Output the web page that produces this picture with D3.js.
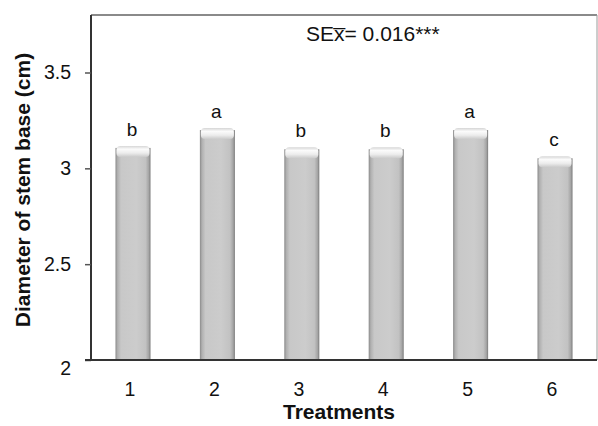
<!DOCTYPE html>
<html><head><meta charset="utf-8">
<script src="https://cdn.jsdelivr.net/npm/d3@7"></script>
<style>body{margin:0;background:#fff;} svg{display:block;font-family:"Liberation Sans",Arial,sans-serif;}</style>
</head><body>
<svg id="c" width="598" height="426"></svg>
<script>
const categories = ["1","2","3","4","5","6"];
const values = [3.117, 3.21, 3.11, 3.11, 3.21, 3.063];
const letters = ["b","a","b","b","a","c"];
const yTicks = [2, 2.5, 3, 3.5];
const yTickLabels = ["2","2.5","3","3.5"];
const annotation = "SEx\u0305= 0.016***";

const svg = d3.select("#c");
const L = 91, R = 597, T = 15, B = 360;
const x = d3.scaleBand().domain(categories).range([L, R]).paddingInner(0.585).paddingOuter(0.29);
const y = d3.scaleLinear().domain([2, 3.8]).range([B, T]);

const defs = svg.append("defs");
const g1 = defs.append("linearGradient").attr("id","barg").attr("x1","0").attr("x2","1").attr("y1","0").attr("y2","0");
[[0,"#8a8a8a"],[0.06,"#b0b0b0"],[0.16,"#c8c8c8"],[0.6,"#cccccc"],[0.86,"#c2c2c2"],[0.95,"#a4a4a4"],[1,"#7a7a7a"]]
  .forEach(([o,c])=>g1.append("stop").attr("offset",o).attr("stop-color",c));
const g2 = defs.append("linearGradient").attr("id","capg").attr("x1","0").attr("x2","0").attr("y1","0").attr("y2","1");
[[0,"#d6d6d6"],[0.3,"#fbfbfb"],[0.65,"#ececec"],[1,"#cacaca"]].forEach(([o,c])=>g2.append("stop").attr("offset",o).attr("stop-color",c));

// frame top/right
svg.append("line").attr("x1",L).attr("x2",R).attr("y1",T).attr("y2",T).attr("stroke","#8a8a8a").attr("stroke-width",2);
svg.append("line").attr("x1",R).attr("x2",R).attr("y1",T).attr("y2",B).attr("stroke","#9a9a9a").attr("stroke-width",1);

// bars
const bars = svg.append("g");
categories.forEach((c,i)=>{
  const bx = x(c), bw = x.bandwidth(), by = y(values[i]);
  bars.append("rect").attr("x",bx).attr("y",by+2).attr("width",bw).attr("height",B-by-2).attr("fill","url(#barg)");
  bars.append("rect").attr("x",bx+1).attr("y",by).attr("width",bw-2).attr("height",11).attr("rx",4).attr("fill","url(#capg)");
  bars.append("text").attr("x",bx+bw/2-1).attr("y",by-10).attr("text-anchor","middle").attr("font-size",19).attr("fill","#111").text(letters[i]);
});

// y axis
const ya = svg.append("g").attr("transform",`translate(${L},0)`)
  .call(d3.axisLeft(y).tickValues(yTicks).tickFormat((d,i)=>yTickLabels[i]).tickSize(6).tickPadding(14));
ya.select(".domain").attr("stroke","#333").attr("stroke-width",2).attr("d",`M0,${T}V${B}`);
ya.selectAll(".tick line").attr("stroke","#555").attr("stroke-width",1.5);
ya.selectAll(".tick text").attr("font-size",19.5).attr("fill","#111").attr("font-family","Liberation Sans, Arial, sans-serif")
  .attr("dy",(d)=> d===2 ? "0.75em" : "0.32em");

// x axis
const xa = svg.append("g").attr("transform",`translate(0,${B})`)
  .call(d3.axisBottom(x).tickSize(0).tickPadding(22));
xa.select(".domain").attr("stroke","#333").attr("stroke-width",2).attr("d",`M${L-6},0H${R}`);
xa.selectAll(".tick text").attr("font-size",19.5).attr("fill","#111").attr("dx","-3").attr("font-family","Liberation Sans, Arial, sans-serif");

// titles
svg.append("text").attr("x",339).attr("y",419).attr("text-anchor","middle").attr("font-size",21).attr("font-weight","bold").attr("fill","#111").text("Treatments");
svg.append("text").attr("transform",`translate(30,190) rotate(-90)`).attr("text-anchor","middle").attr("font-size",21).attr("font-weight","bold").attr("fill","#111").text("Diameter of stem base (cm)");

// annotation
svg.append("text").attr("x",306).attr("y",41).attr("font-size",21).attr("fill","#111").text(annotation);
</script>
</body></html>
